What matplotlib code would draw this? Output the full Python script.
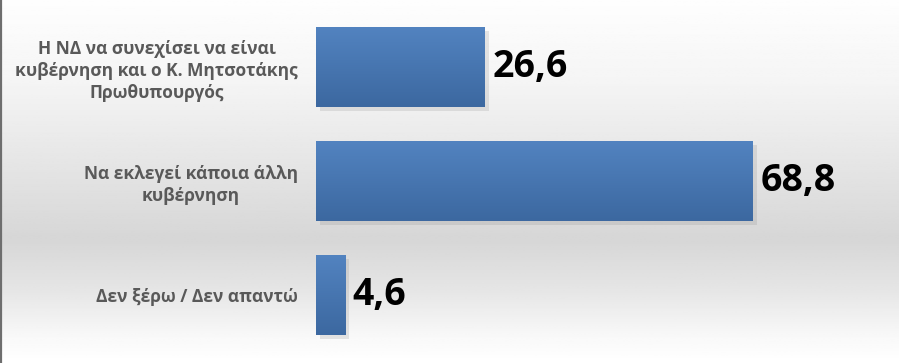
import matplotlib.pyplot as plt
import matplotlib.patheffects as pe
from matplotlib.colors import LinearSegmentedColormap
import numpy as np

plt.rcParams['font.family'] = ['Open Sans', 'DejaVu Sans']

labels = ["Η ΝΔ να συνεχίσει να είναι\nκυβέρνηση και ο Κ. Μητσοτάκης\nΠρωθυπουργός",
          "Να εκλεγεί κάποια άλλη\nκυβέρνηση",
          "Δεν ξέρω / Δεν απαντώ"]
values = [26.6, 68.8, 4.6]
value_text = ["26,6", "68,8", "4,6"]

W, H = 899, 363
fig = plt.figure(figsize=(W / 100, H / 100), dpi=100)

# background: white -> grey -> white
bg = fig.add_axes([0, 0, 1, 1], zorder=0)
yy = np.linspace(0, 1, 200)  # 0 = top
stops_y = [0.0, 0.22, 0.45, 0.66, 0.80, 0.93, 1.0]
stops_c = [0.995, 0.96, 0.90, 0.84, 0.90, 0.975, 1.0]
col = np.interp(yy, stops_y, stops_c)
img = np.repeat(col[:, None], 2, axis=1)
bg.imshow(img, cmap='gray', vmin=0, vmax=1, aspect='auto', extent=[0, 1, 1, 0])
bg.axvline(0.0012, color='#6e6e6e', lw=1.6)
bg.set_xlim(0, 1)
bg.set_ylim(1, 0)
bg.axis('off')

left_px = 316
ax = fig.add_axes([left_px / W, 0, 1 - left_px / W, 1], zorder=1)
ax.patch.set_alpha(0)
px_per_unit = 6.35
ax.set_xlim(0, (W - left_px) / px_per_unit)
ax.set_ylim((H - 67) / 114, -67 / 114)

pos = np.arange(len(values))
bars = ax.barh(pos, values, height=80 / 114, color='#4a7cb8', zorder=2,
               path_effects=[pe.SimplePatchShadow(offset=(3, -3), shadow_rgbFace='#888888', alpha=0.2),
                             pe.Normal()])

# vertical gradient inside each bar
grad = np.linspace(0, 1, 100)[:, None]
cm = LinearSegmentedColormap.from_list('b', ['#5283c0', '#3c68a0'])
for b in bars:
    x0, y0 = b.get_x(), b.get_y()
    im = ax.imshow(grad, cmap=cm, aspect='auto', zorder=3,
                   extent=[x0, x0 + b.get_width(), y0 + b.get_height(), y0])
    im.set_clip_path(b)

for b, t in zip(bars, value_text):
    ax.text(b.get_width() + 1.2, b.get_y() + b.get_height() / 2, t,
            va='center', ha='left', fontsize=27, fontweight='bold', color='black', zorder=4)

ax.set_yticks(pos)
ax.set_yticklabels(labels, fontsize=12.5, fontweight='bold', color='#595959', linespacing=1.3)
for lbl in ax.get_yticklabels():
    lbl.set_multialignment('center')
ax.tick_params(axis='y', length=0, pad=13)
ax.set_xticks([])
for s in ax.spines.values():
    s.set_visible(False)

fig.savefig('out.png', dpi=100)
